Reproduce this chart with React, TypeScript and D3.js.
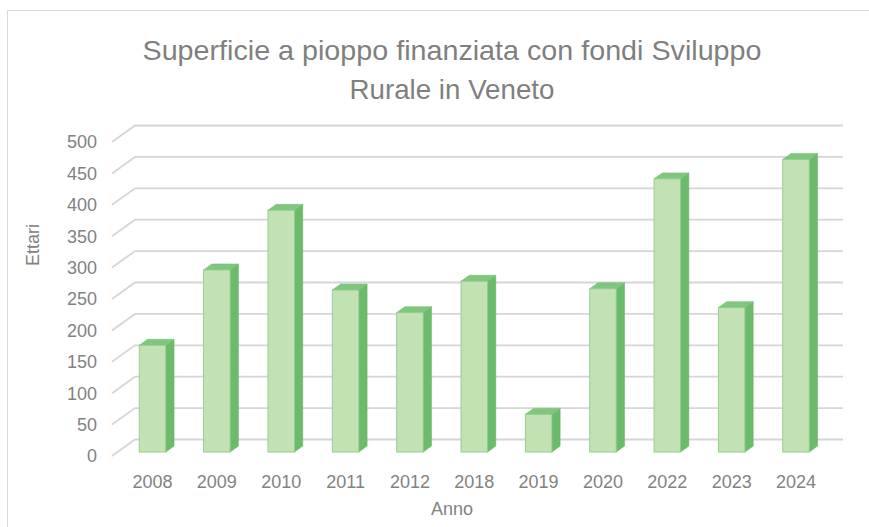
import React from "react";
import * as d3 from "d3";

const categories = ["2008", "2009", "2010", "2011", "2012", "2018", "2019", "2020", "2022", "2023", "2024"];
const values = [170, 290, 385, 258, 222, 272, 60, 260, 435, 230, 466];
const yTicks = [0, 50, 100, 150, 200, 250, 300, 350, 400, 450, 500];
const titleLines = ["Superficie a pioppo finanziata con fondi Sviluppo", "Rurale in Veneto"];
const yAxisTitle = "Ettari";
const xAxisTitle = "Anno";

const W = 869;
const H = 527;

export default function App() {
  // front edge of the 3D floor/walls
  const yFront = d3.scaleLinear().domain([0, 500]).range([456, 142]);
  const depthDx = 23;
  const depthDy = -16.5;
  const xFrontLeft = 112;
  const xRight = 843;
  const x = d3.scalePoint<string>().domain(categories).range([152.5, 796]);

  const barW = 26.5;
  const t0 = 0.24; // bar front depth
  const t1 = 0.6; // bar back depth
  const bdx = (t1 - t0) * depthDx;
  const bdy = (t1 - t0) * depthDy;
  const fontAxis = "'Liberation Sans', Arial, sans-serif";
  const textColor = "#828282";

  return (
    <svg width={W} height={H} style={{ position: "absolute", left: 0, top: 0, background: "#fff" }}>
      <rect x={7.5} y={10.5} width={W + 10} height={H + 10} fill="#fff" stroke="#d9d9d9" strokeWidth={1} />
      {titleLines.map((t, i) => (
        <text
          key={t}
          x={452}
          y={i === 0 ? 60 : 99}
          textAnchor="middle"
          fontFamily="'Liberation Sans Narrow', 'Liberation Sans', sans-serif"
          fontSize={28}
          fill="#7f7f7f"
          textLength={i === 0 ? 619 : 205}
          lengthAdjust="spacingAndGlyphs"
        >
          {t}
        </text>
      ))}
      {/* gridlines */}
      {yTicks.map((v) => {
        const yf = yFront(v);
        const yb = yf + depthDy;
        return (
          <g key={v}>
            <path
              d={`M${xFrontLeft},${yf}L${xFrontLeft + depthDx},${yb}L${xRight},${yb}`}
              fill="none"
              stroke="#d6d6d6"
              strokeWidth={1.8}
            />
            <text x={97} y={yf} dy="0.35em" textAnchor="end" fontFamily={fontAxis} fontSize={18} fill={textColor}>
              {v}
            </text>
          </g>
        );
      })}
      {/* bars */}
      {categories.map((c, i) => {
        const cx = x(c)!;
        const xl = cx - barW / 2;
        const xr = cx + barW / 2;
        const base = yFront(0) + t0 * depthDy;
        const top = yFront(values[i]) + t0 * depthDy;
        return (
          <g key={c}>
            <path
              d={`M${xr},${top}L${xr + bdx},${top + bdy}L${xr + bdx},${base + bdy}L${xr},${base}Z`}
              fill="#6cbb6c"
              stroke="#66b566"
              strokeWidth={0.6}
            />
            <path
              d={`M${xl},${top}L${xl + bdx},${top + bdy}L${xr + bdx},${top + bdy}L${xr},${top}Z`}
              fill="#80c77e"
              stroke="#78c078"
              strokeWidth={0.6}
            />
            <rect x={xl} y={top} width={barW} height={base - top} fill="#c3e2b3" stroke="#8fcc8a" strokeWidth={0.9} />
          </g>
        );
      })}
      {categories.map((c) => (
        <text key={c} x={x(c)!} y={482} dy="0.35em" textAnchor="middle" fontFamily={fontAxis} fontSize={18} fill={textColor}>
          {c}
        </text>
      ))}
      <text x={452} y={509} dy="0.35em" textAnchor="middle" fontFamily={fontAxis} fontSize={18} fill={textColor}>
        {xAxisTitle}
      </text>
      <text
        transform={`translate(33,245) rotate(-90)`}
        dy="0.35em"
        textAnchor="middle"
        fontFamily={fontAxis}
        fontSize={18}
        fill={textColor}
      >
        {yAxisTitle}
      </text>
    </svg>
  );
}
